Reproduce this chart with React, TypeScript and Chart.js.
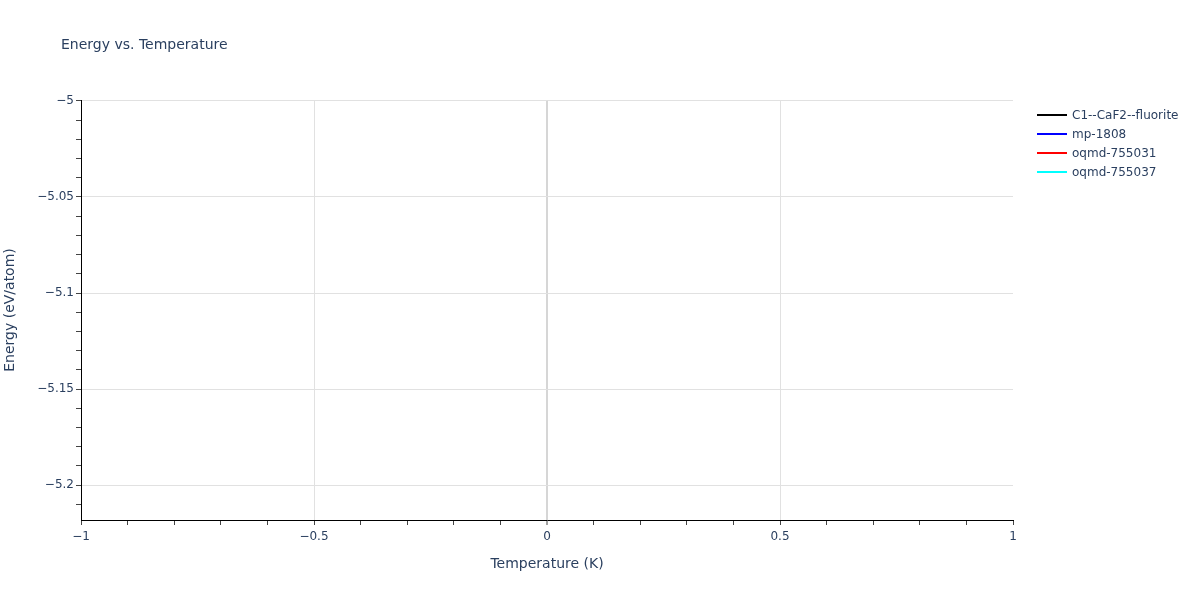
import { useEffect, useRef } from 'react';
import { Chart, registerables } from 'chart.js';

Chart.register(...registerables);

// series (no visible points in the reference)
const temperatures: number[] = [];
const fluoriteEnergy: number[] = [];
const mp1808Energy: number[] = [];
const oqmd755031Energy: number[] = [];
const oqmd755037Energy: number[] = [];

const seriesNames = ['C1--CaF2--fluorite', 'mp-1808', 'oqmd-755031', 'oqmd-755037'];
const seriesColors = ['#000000', '#0000ff', '#ff0000', '#00ffff'];

const xMajorTicks = [-1, -0.5, 0, 0.5, 1];
const yMajorTicks = [-5, -5.05, -5.1, -5.15, -5.2];

const FONT = '"DejaVu Sans", Verdana, sans-serif';
const TEXT = '#2a3f5f';

const isMajor = (v: number, majors: number[]) => majors.some((m) => Math.abs(m - v) < 1e-6);
const fmt = (v: number) => {
  const r = Math.round(v * 1000) / 1000;
  return r < 0 ? '\u2212' + String(-r) : String(r);
};

// title + legend drawn by hand so they sit where plotly put them
const overlay = {
  id: 'overlay',
  afterDraw(chart: Chart) {
    const ctx = chart.ctx;
    ctx.save();
    ctx.textBaseline = 'middle';
    ctx.textAlign = 'left';
    ctx.fillStyle = TEXT;
    ctx.font = `14px ${FONT}`;
    ctx.fillText('Energy vs. Temperature', 61, 45.5);

    ctx.font = `12px ${FONT}`;
    chart.data.datasets.forEach((ds: any, i: number) => {
      const y = 115 + i * 19;
      ctx.strokeStyle = ds.borderColor;
      ctx.lineWidth = 2;
      ctx.beginPath();
      ctx.moveTo(1037, y);
      ctx.lineTo(1067, y);
      ctx.stroke();
      ctx.fillStyle = TEXT;
      ctx.fillText(ds.label, 1072, y + 0.5);
    });
    ctx.restore();
  },
};

const App = () => {
  const canvasRef = useRef<HTMLCanvasElement>(null);
  const chartRef = useRef<Chart | null>(null);

  useEffect(() => {
    if (!canvasRef.current) return;
    if (chartRef.current) chartRef.current.destroy();

    const allSeries = [fluoriteEnergy, mp1808Energy, oqmd755031Energy, oqmd755037Energy];
    const datasets = allSeries.map((vals, i) => ({
      label: seriesNames[i],
      data: temperatures.map((t, j) => ({ x: t, y: vals[j] })),
      borderColor: seriesColors[i],
      backgroundColor: seriesColors[i],
      borderWidth: 2,
      pointRadius: 0,
    }));

    chartRef.current = new Chart(canvasRef.current, {
      type: 'line',
      data: { datasets },
      plugins: [overlay],
      options: {
        responsive: true,
        maintainAspectRatio: false,
        animation: false,
        layout: { padding: { left: 0, top: 100, right: 187, bottom: 0 } },
        plugins: {
          legend: { display: false },
          title: { display: false },
          tooltip: { enabled: false },
        },
        scales: {
          x: {
            type: 'linear',
            min: -1,
            max: 1,
            afterFit: (scale: any) => {
              scale.height = 80;
            },
            ticks: {
              stepSize: 0.1,
              autoSkip: false,
              maxRotation: 0,
              padding: 5,
              color: TEXT,
              font: { family: FONT, size: 12 },
              callback: (v: any) => (isMajor(Number(v), xMajorTicks) ? fmt(Number(v)) : ''),
            },
            grid: {
              color: (c: any) => {
                const v = c.tick ? c.tick.value : 0;
                if (Math.abs(v) < 1e-6) return '#d6d6d6';
                if (Math.abs(Math.abs(v) - 1) < 1e-6) return 'rgba(0,0,0,0)';
                return isMajor(v, xMajorTicks) ? '#e1e1e1' : 'rgba(0,0,0,0)';
              },
              lineWidth: (c: any) => (c.tick && Math.abs(c.tick.value) < 1e-6 ? 2 : 1),
              tickColor: '#444',
              tickWidth: 1,
              tickLength: 5,
            },
            border: { display: true, color: '#000', width: 1 },
            title: {
              display: true,
              text: 'Temperature (K)',
              color: TEXT,
              font: { family: FONT, size: 14 },
              padding: { top: 0, bottom: 27 },
            },
          },
          y: {
            type: 'linear',
            min: -5.2182,
            max: -4.9995,
            afterFit: (scale: any) => {
              scale.width = 81;
            },
            ticks: {
              stepSize: 0.01,
              includeBounds: false,
              autoSkip: false,
              padding: 2,
              color: TEXT,
              font: { family: FONT, size: 12 },
              callback: (v: any) => (isMajor(Number(v), yMajorTicks) ? fmt(Number(v)) : ''),
            },
            grid: {
              color: (c: any) =>
                c.tick && isMajor(c.tick.value, yMajorTicks) ? '#e1e1e1' : 'rgba(0,0,0,0)',
              tickColor: '#444',
              tickWidth: 1,
              tickLength: 5,
            },
            border: { display: true, color: '#000', width: 1 },
            title: {
              display: true,
              text: 'Energy (eV/atom)',
              color: TEXT,
              font: { family: FONT, size: 14 },
              padding: { top: 2, bottom: 0 },
            },
          },
        },
      },
    });

    return () => {
      if (chartRef.current) {
        chartRef.current.destroy();
        chartRef.current = null;
      }
    };
  }, []);

  return (
    <div style={{ position: 'fixed', left: 0, top: 0, width: 1200, height: 600, background: '#fff' }}>
      <canvas ref={canvasRef}></canvas>
    </div>
  );
};

export default App;
